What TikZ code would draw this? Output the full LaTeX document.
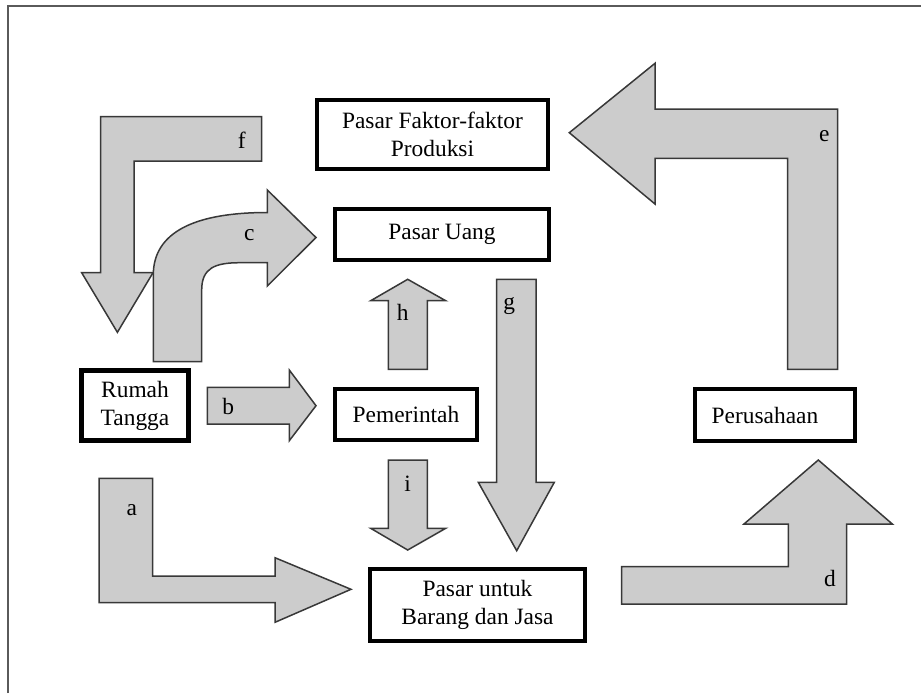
\documentclass[tikz,border=0pt]{standalone}
\usepackage{fontspec}
\setmainfont{Liberation Serif}
\definecolor{arrowgray}{HTML}{CCCCCC}
\definecolor{edgegray}{HTML}{383838}
\definecolor{framegray}{HTML}{5A5A5A}
\begin{document}
\begin{tikzpicture}[x=0.5pt,y=-0.5pt,
  box/.style={draw=black,line width=2pt,fill=white,align=center,inner sep=0pt,font=\fontsize{11.7}{14}\selectfont},
  blk/.style={fill=arrowgray,draw=edgegray,line width=0.75pt,line join=miter},
  lbl/.style={font=\fontsize{11.7}{14}\selectfont,inner sep=0pt}]
\useasboundingbox (0,0) rectangle (921,693);
% frame
\draw[framegray,line width=1pt] (8,693) -- (8,6) -- (921,6);

% boxes
\node[box,minimum width=115.5pt,minimum height=34.5pt] (pfp) at (432.5,134.5) {Pasar Faktor-faktor\\Produksi};
\node[box,minimum width=107pt,minimum height=25.5pt] (pu) at (442,234.5) {Pasar Uang};
\node[box,minimum width=71pt,minimum height=25.5pt] (pem) at (406,414.5) {Pemerintah};
\node[box,line width=2.5pt,minimum width=53.5pt,minimum height=35pt] (rt) at (135,405.5) {Rumah\\Tangga};
\node[box,minimum width=107.5pt,minimum height=36pt] (pbj) at (477.5,605) {Pasar untuk\\Barang dan Jasa};
\node[box,minimum width=80pt,minimum height=26pt] (per) at (775,415) {Perusahaan\hspace*{10pt}};

% arrow f
\draw[blk] (100.7,116.7) -- (261.7,116.7) -- (261.7,161) -- (134,161) -- (134,272.7) -- (153,272.7) -- (117.4,332.3) -- (81.7,272.7) -- (100.7,272.7) -- cycle;
\node[lbl] (lf) at (241.7,140) {f};
% arrow c
\draw[blk] (153.3,361.7) -- (153.3,275) .. controls (153.3,232) and (195,212.5) .. (267.3,212.5) -- (267.3,190) -- (316,237.5) -- (267.3,286) -- (267.3,262.7) -- (240,262.7) .. controls (215,262.7) and (201.7,268) .. (201.7,290) -- (201.7,361.7) -- cycle;
\node[lbl] (lc) at (249.3,235) {c};
% arrow e
\draw[blk] (569.3,132.7) -- (655,63.3) -- (655,109) -- (837.7,109) -- (837.7,369.3) -- (787.7,369.3) -- (787.7,158.3) -- (655,158.3) -- (655,204) -- cycle;
\node[lbl] (le) at (824.3,136) {e};
% arrow d
\draw[blk] (621.7,604) -- (621.7,566.7) -- (788.3,566.7) -- (788.3,524) -- (744,524) -- (818.3,460) -- (892.3,524) -- (846.7,524) -- (846.7,604) -- cycle;
\node[lbl] (ld) at (830,578.3) {d};
% arrow a
\draw[blk] (99,478.3) -- (152.7,478.3) -- (152.7,576) -- (275,576) -- (275,557.7) -- (351,589.3) -- (275,622.3) -- (275,602.7) -- (99,602.7) -- cycle;
\node[lbl] (la) at (131.7,510) {a};
% arrow b
\draw[blk] (207.3,387.3) -- (289.3,387.3) -- (289.3,370) -- (316,405.7) -- (289.3,440.7) -- (289.3,424) -- (207.3,424) -- cycle;
\node[lbl] (lb) at (228.3,406.7) {b};
% arrow h
\draw[blk] (388.3,369.3) -- (388.3,300.7) -- (370.7,300.7) -- (407.7,279.3) -- (445.7,300.7) -- (427.3,300.7) -- (427.3,369.3) -- cycle;
\node[lbl] (lh) at (402.7,312.7) {h};
% arrow i
\draw[blk] (388.3,460) -- (427.3,460) -- (427.3,528.3) -- (445.7,528.3) -- (407.7,550) -- (370.7,528.3) -- (388.3,528.3) -- cycle;
\node[lbl] (li) at (407.7,483.3) {i};
% arrow g
\draw[blk] (496.7,279.3) -- (536,279.3) -- (536,482.3) -- (554.3,482.3) -- (516.7,550.7) -- (478.3,482.3) -- (496.7,482.3) -- cycle;
\node[lbl] (lg) at (509.3,306) {g};
\end{tikzpicture}
\end{document}
